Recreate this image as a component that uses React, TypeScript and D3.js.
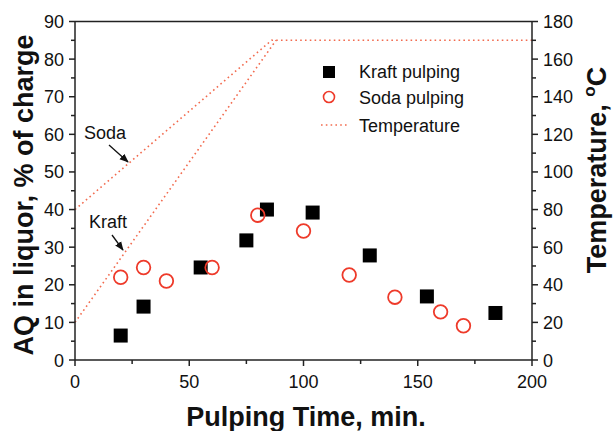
import React from "react";
import * as d3 from "d3";

const kraftTime = [20, 30, 55, 75, 84, 104, 129, 154, 184];
const kraftAQ = [6.5, 14.2, 24.6, 31.8, 40, 39.2, 27.8, 16.9, 12.5];
const sodaTime = [20, 30, 40, 60, 80, 100, 120, 140, 160, 170];
const sodaAQ = [22, 24.6, 21, 24.6, 38.5, 34.3, 22.6, 16.7, 12.8, 9.1];
const sodaTempTime = [0, 86, 200];
const sodaTemp = [80, 170, 170];
const kraftTempTime = [0, 88];
const kraftTemp = [20, 170];
const xTicks = [0, 50, 100, 150, 200];
const yTicks = [0, 10, 20, 30, 40, 50, 60, 70, 80, 90];
const y2Ticks = [0, 20, 40, 60, 80, 100, 120, 140, 160, 180];

const W = 614, H = 431;
const L = 75, R = 532, T = 21.5, B = 360;
const font = "'Liberation Sans', Arial, sans-serif";

export default function App() {
  const x = d3.scaleLinear().domain([0, 200]).range([L, R]);
  const y = d3.scaleLinear().domain([0, 90]).range([B, T]);
  const y2 = d3.scaleLinear().domain([0, 180]).range([B, T]);
  const line = d3.line<[number, number]>().x(d => x(d[0])).y(d => y2(d[1]));
  const sodaT = sodaTempTime.map((t, i) => [t, sodaTemp[i]] as [number, number]);
  const kraftT = kraftTempTime.map((t, i) => [t, kraftTemp[i]] as [number, number]);
  const minorX = d3.range(25, 200, 50);
  const minorY = d3.range(5, 90, 10);
  const tc = "#f26b4f";
  const fs = 18;
  return (
    <svg width={W} height={H} style={{ position: "absolute", left: 0, top: 0, background: "#fff" }} fontFamily={font}>
      <defs>
        <marker id="arr" viewBox="0 0 10 10" refX="9" refY="5" markerWidth="7" markerHeight="7" orient="auto">
          <path d="M0,1 L10,5 L0,9 z" fill="#111" />
        </marker>
      </defs>
      {/* temperature lines */}
      <path d={line(sodaT) || ""} fill="none" stroke={tc} strokeWidth={1.6} strokeDasharray="1.6 3.2" />
      <path d={line(kraftT) || ""} fill="none" stroke={tc} strokeWidth={1.6} strokeDasharray="1.6 3.2" />
      {/* frame */}
      <line x1={L} x2={R} y1={T} y2={T} stroke="#222" strokeWidth={1.5} />
      <line x1={L} x2={R} y1={B} y2={B} stroke="#222" strokeWidth={1.5} />
      <line x1={L} x2={L} y1={T} y2={B} stroke="#222" strokeWidth={1.5} />
      <line x1={R} x2={R} y1={T} y2={B} stroke="#222" strokeWidth={1.5} />
      {/* x ticks */}
      {xTicks.map(v => (
        <g key={"x" + v}>
          <line x1={x(v)} x2={x(v)} y1={B} y2={B + 6} stroke="#222" strokeWidth={1.5} />
          <text x={x(v)} y={B + 28} textAnchor="middle" fontSize={fs} fill="#111">{v}</text>
        </g>
      ))}
      {minorX.map(v => (
        <line key={"mx" + v} x1={x(v)} x2={x(v)} y1={B} y2={B + 4} stroke="#222" strokeWidth={1.5} />
      ))}
      {/* left y ticks */}
      {yTicks.map(v => (
        <g key={"y" + v}>
          <line x1={L - 6} x2={L} y1={y(v)} y2={y(v)} stroke="#222" strokeWidth={1.5} />
          <text x={L - 11} y={y(v) + 6.5} textAnchor="end" fontSize={fs} fill="#111">{v}</text>
        </g>
      ))}
      {minorY.map(v => (
        <line key={"my" + v} x1={L - 4} x2={L} y1={y(v)} y2={y(v)} stroke="#222" strokeWidth={1.5} />
      ))}
      {/* right y ticks */}
      {y2Ticks.map(v => (
        <g key={"r" + v}>
          <line x1={R} x2={R + 6} y1={y2(v)} y2={y2(v)} stroke="#222" strokeWidth={1.5} />
          <text x={R + 11} y={y2(v) + 6.5} textAnchor="start" fontSize={fs} fill="#111">{v}</text>
        </g>
      ))}
      {minorY.map(v => (
        <line key={"mr" + v} x1={R} x2={R + 4} y1={y(v)} y2={y(v)} stroke="#222" strokeWidth={1.5} />
      ))}
      {/* data */}
      {kraftTime.map((t, i) => (
        <rect key={"k" + i} x={x(t) - 7} y={y(kraftAQ[i]) - 7} width={14} height={14} fill="#000" />
      ))}
      {sodaTime.map((t, i) => (
        <circle key={"s" + i} cx={x(t)} cy={y(sodaAQ[i])} r={6.8} fill="none" stroke="#ee3a2a" strokeWidth={1.8} />
      ))}
      {/* annotations */}
      <text x={84} y={139} fontSize={18} fill="#111">Soda</text>
      <line x1={109} x2={128} y1={145} y2={162} stroke="#111" strokeWidth={1.3} markerEnd="url(#arr)" />
      <text x={89} y={228} fontSize={18} fill="#111">Kraft</text>
      <line x1={112} x2={123} y1={235} y2={250} stroke="#111" strokeWidth={1.3} markerEnd="url(#arr)" />
      {/* legend */}
      <rect x={323} y={66} width={12} height={12} fill="#000" />
      <text x={359} y={78} fontSize={18} fill="#111">Kraft pulping</text>
      <circle cx={329} cy={97} r={5.5} fill="none" stroke="#ee3a2a" strokeWidth={1.6} />
      <text x={359} y={104} fontSize={18} fill="#111">Soda pulping</text>
      <line x1={321} x2={349} y1={125} y2={125} stroke={tc} strokeWidth={1.6} strokeDasharray="1.6 3.2" />
      <text x={359} y={132} fontSize={18} fill="#111">Temperature</text>
      {/* axis titles */}
      <text x={306} y={426} textAnchor="middle" fontSize={27} fontWeight="bold" fill="#111">Pulping Time, min.</text>
      <text transform={`translate(33,195) rotate(-90)`} textAnchor="middle" fontSize={27} fontWeight="bold" fill="#111">AQ in liquor, % of charge</text>
      <text transform={`translate(606,170) rotate(-90)`} textAnchor="middle" fontSize={27} fontWeight="bold" fill="#111">
        Temperature, <tspan fontSize={17} dy={-11}>o</tspan><tspan dy={11}>C</tspan>
      </text>
    </svg>
  );
}
